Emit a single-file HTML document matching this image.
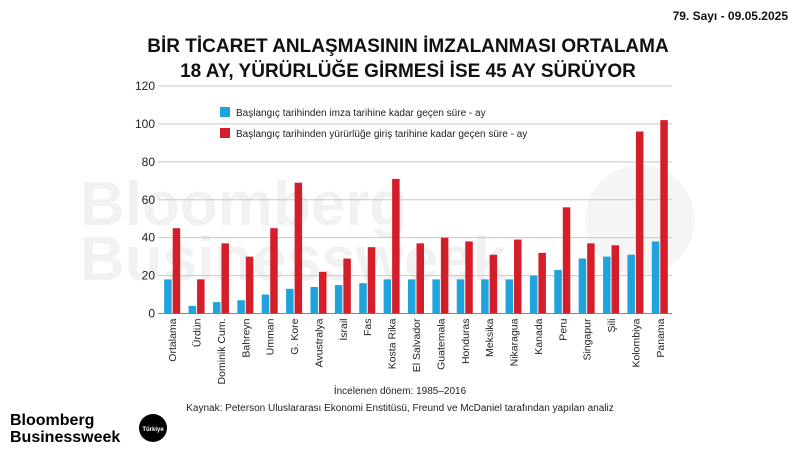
<!DOCTYPE html>
<html><head><meta charset="utf-8">
<style>
body{margin:0;background:#fff;font-family:"Liberation Sans",sans-serif;}
#wrap{position:relative;width:800px;height:450px;overflow:hidden;background:#fff;}
</style></head>
<body>
<div id="wrap">
<svg id="chart" width="800" height="450" xmlns="http://www.w3.org/2000/svg">
  <text x="788" y="20" text-anchor="end" font-size="12" font-weight="bold" fill="#111">79. Sayı - 09.05.2025</text>
  <text x="408" y="52" text-anchor="middle" font-size="19" font-weight="bold" fill="#111">BİR TİCARET ANLAŞMASININ İMZALANMASI ORTALAMA</text>
  <text x="408" y="77" text-anchor="middle" font-size="19" font-weight="bold" fill="#111">18 AY, YÜRÜRLÜĞE GİRMESİ İSE 45 AY SÜRÜYOR</text>
  <g opacity="0.05">
    <text x="80" y="225" font-size="62" font-weight="bold" fill="#000">Bloomberg</text>
    <text x="80" y="280" font-size="62" font-weight="bold" fill="#000">Businessweek</text>
  </g>
  <circle cx="640" cy="220" r="55" fill="#000" opacity="0.04"/>
  <g id="grid"></g>
  <g id="bars"></g>
  <g id="xlabels"></g>
  <rect x="220" y="107" width="10" height="10" fill="#1fa3dc"/>
  <text x="236" y="116" font-size="10" fill="#222">Başlangıç tarihinden imza tarihine kadar geçen süre - ay</text>
  <rect x="220" y="128" width="10" height="10" fill="#d41f2a"/>
  <text x="236" y="137" font-size="10" fill="#222">Başlangıç tarihinden yürürlüğe giriş tarihine kadar geçen süre - ay</text>
  <text x="400" y="394" text-anchor="middle" font-size="10" fill="#222">İncelenen dönem: 1985–2016</text>
  <text x="400" y="411" text-anchor="middle" font-size="10" fill="#222">Kaynak: Peterson Uluslararası Ekonomi Enstitüsü, Freund ve McDaniel tarafından yapılan analiz</text>
  <text x="10" y="425" font-size="16" font-weight="bold" fill="#000">Bloomberg</text>
  <text x="10" y="442" font-size="16" font-weight="bold" fill="#000">Businessweek</text>
  <circle cx="153" cy="428" r="14" fill="#000"/>
  <text x="153" y="431" text-anchor="middle" font-size="6" font-weight="bold" fill="#fff">Türkiye</text>
</svg>
</div>
<script>
const categories=["Ortalama","Ürdün","Dominik Cum.","Bahreyn","Umman","G. Kore","Avustralya","İsrail","Fas","Kosta Rika","El Salvador","Guatemala","Honduras","Meksika","Nikaragua","Kanada","Peru","Singapur","Şili","Kolombiya","Panama"];
const signing=[18,4,6,7,10,13,14,15,16,18,18,18,18,18,18,20,23,29,30,31,38];
const entry=[45,18,37,30,45,69,22,29,35,71,37,40,38,31,39,32,56,37,36,96,102];
const yTicks=[0,20,40,60,80,100,120];
const NS="http://www.w3.org/2000/svg";
const x0=160,x1=672,yBase=313.5,yTop=86;
const yMax=120;
const y=v=>yBase-(v/yMax)*(yBase-yTop);
const step=(x1-x0)/categories.length;
const xc=i=>x0+step*(i+0.5);
function mk(tag,attrs,parent){const e=document.createElementNS(NS,tag);for(const k in attrs)e.setAttribute(k,attrs[k]);parent.appendChild(e);return e;}
const grid=document.getElementById('grid');
yTicks.forEach(t=>{
  const l=mk('line',{x1:x0-2,x2:x1,y1:y(t),y2:y(t),stroke:t===0?'#888':'#c8c8c8','stroke-width':1},grid);
  
  
  const tx=mk('text',{x:x0-5,y:y(t)+4,'text-anchor':'end','font-size':12,fill:'#222'},grid);
  tx.textContent=t;
  
  
});
const bars=document.getElementById('bars');
const xl=document.getElementById('xlabels');
const bw=7.5;
categories.forEach((c,i)=>{
  const cx=xc(i);
  const b=mk('rect',{x:cx-bw-0.5,y:y(signing[i]),width:bw,height:yBase-y(signing[i]),fill:'#1fa3dc'},bars);
  
  
  const r=mk('rect',{x:cx+0.5,y:y(entry[i]),width:bw,height:yBase-y(entry[i]),fill:'#d41f2a'},bars);
  
  
  const t=mk('text',{x:0,y:0,'text-anchor':'end','font-size':10.5,fill:'#222',transform:`translate(${cx+4},${yBase+5}) rotate(-90)`},xl);
  t.textContent=c;
  
  
});
</script>
</body></html>
